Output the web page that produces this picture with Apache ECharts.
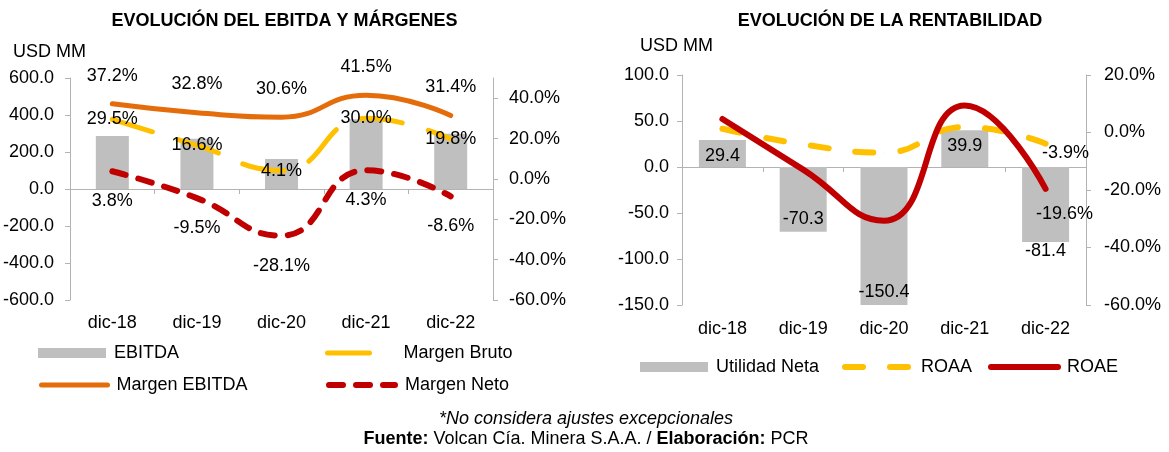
<!DOCTYPE html>
<html><head><meta charset="utf-8">
<script src="https://cdn.jsdelivr.net/npm/echarts@6/dist/echarts.min.js"></script>
<style>html,body{margin:0;padding:0;background:#fff}#c{width:1169px;height:452px}</style>
</head><body><div id="c"></div>
<script>
// ---- data ----
const categories = ['dic-18', 'dic-19', 'dic-20', 'dic-21', 'dic-22'];
const ebitda = [286, 272, 162, 377, 299];
const margenBruto = [29.5, 16.6, 4.1, 30.0, 19.8];
const margenEbitda = [37.2, 32.8, 30.6, 41.5, 31.4];
const margenNeto = [3.8, -9.5, -28.1, 4.3, -8.6];
const utilidadNeta = [29.4, -70.3, -150.4, 39.9, -81.4];
const roaa = [1.3, -4.1, -7.0, 1.9, -3.9];
const roae = [4.7, -12.9, -30.7, 9.4, -19.6];
// axis scales
const leftAxisA = {min: -600, max: 600, interval: 200};
const rightAxisA = {min: -60, max: 50, interval: 20};
const leftAxisB = {min: -150, max: 100, interval: 50};
const rightAxisB = {min: -60, max: 20, interval: 20};
// texts
const titleA = 'EVOLUCIÓN DEL EBITDA Y MÁRGENES';
const titleB = 'EVOLUCIÓN DE LA RENTABILIDAD';
const unitLabel = 'USD MM';
const note = '*No considera ajustes excepcionales';

const FONT = "'Liberation Sans', Arial, sans-serif";
const AX = '#B3B3B3';
const GRAY = '#BFBFBF', ORANGE = '#E46C0A', YELLOW = '#FFC000', RED = '#C00000';
const pct = v => v.toFixed(1) + '%';
const num = v => v.toFixed(1);
const txt = {fontFamily: FONT, fontSize: 18, color: '#000'};

function yAx(grid, pos, sc, fmt, margin, hideMax) {
  return {
    type: 'value', gridIndex: grid, position: pos,
    min: sc.min, max: sc.max, interval: sc.interval,
    axisLine: {show: true, lineStyle: {color: AX, width: 1}},
    axisTick: {show: true, length: 5, lineStyle: {color: AX}},
    splitLine: {show: false},
    axisLabel: Object.assign({formatter: fmt, margin: margin, showMaxLabel: hideMax ? false : null}, txt)
  };
}
function xLab(grid, margin) {
  return {type: 'category', gridIndex: grid, data: categories, position: 'bottom',
    axisLine: {show: false, onZero: false}, axisTick: {show: false},
    axisLabel: Object.assign({margin: margin}, txt)};
}
function xZero(grid, yIdx) {
  return {type: 'category', gridIndex: grid, data: categories, position: 'bottom',
    axisLine: {show: true, onZero: true, onZeroAxisIndex: yIdx, lineStyle: {color: AX, width: 1}},
    axisTick: {show: true, length: 5, lineStyle: {color: AX}},
    axisLabel: {show: false}};
}
function lineLegend(name, left, top, w, pad, ls) {
  return {data: [name], left: left, top: top, padding: 0, itemWidth: w, itemHeight: 10, selectedMode: false,
    itemStyle: {opacity: 0}, lineStyle: ls,
    textStyle: Object.assign({padding: [0, 0, 0, pad]}, txt)};
}
function barLegend(name, left, top, w, pad) {
  return {data: [{name: name, icon: 'rect'}], left: left, top: top, padding: 0, itemWidth: w, itemHeight: 10, selectedMode: false,
    textStyle: Object.assign({padding: [0, 0, 0, pad]}, txt)};
}
const lastOnly = (arr, lab) => arr.map((v, i) => i === arr.length - 1 ? {value: v, label: Object.assign({show: true}, lab)} : v);
const barLabelPos = utilidadNeta.map(v => v >= 0 ? {position: 'insideTop', distance: 7} : (v < -75 && v > -100 ? {position: 'bottom', distance: 0} : {position: 'insideBottom', distance: 4}));

const styleBruto = {color: YELLOW, width: 5, type: [42, 27], cap: 'round'};
const styleEbitda = {color: ORANGE, width: 5, cap: 'round'};
const styleNeto = {color: RED, width: 6, type: [14, 13], cap: 'round'};
const styleRoaa = {color: YELLOW, width: 6, type: [18, 27], cap: 'round'};
const styleRoae = {color: RED, width: 6, cap: 'round'};

const chart = echarts.init(document.getElementById('c'), null, {renderer: 'canvas'});
chart.setOption({
  animation: false,
  backgroundColor: '#fff',
  textStyle: {fontFamily: FONT},
  grid: [
    {left: 70, right: 676, top: 78, bottom: 152},
    {left: 682, right: 83, top: 75, bottom: 147}
  ],
  xAxis: [xLab(0, 14), xZero(0, 0), xLab(1, 15), xZero(1, 2)],
  yAxis: [
    yAx(0, 'left', leftAxisA, num, 16),
    yAx(0, 'right', rightAxisA, pct, 16, true),
    yAx(1, 'left', leftAxisB, num, 13),
    yAx(1, 'right', rightAxisB, pct, 18)
  ],
  legend: [
    barLegend('EBITDA', 38, 344, 68, 3),
    lineLegend('Margen EBITDA', 39, 376, 66, 4, styleEbitda),
    lineLegend('Margen Bruto', 325, 344, 48, 23, styleBruto),
    lineLegend('Margen Neto', 326, 376, 66, 5, styleNeto),
    barLegend('Utilidad Neta', 640, 358, 68, 3),
    lineLegend('ROAA', 842, 358, 66, 5, styleRoaa),
    lineLegend('ROAE', 988, 358, 67, 4, styleRoae)
  ],
  graphic: [
    {type: 'text', x: 284.5, y: 21, style: {text: titleA, fontFamily: FONT, fontSize: 18, fontWeight: 'bold', fill: '#000', align: 'center', verticalAlign: 'middle'}},
    {type: 'text', x: 890, y: 21, style: {text: titleB, fontFamily: FONT, fontSize: 18, fontWeight: 'bold', fill: '#000', align: 'center', verticalAlign: 'middle'}},
    {type: 'text', x: 13, y: 52, style: {text: unitLabel, fontFamily: FONT, fontSize: 18, fill: '#000', align: 'left', verticalAlign: 'middle'}},
    {type: 'text', x: 640, y: 46, style: {text: unitLabel, fontFamily: FONT, fontSize: 18, fill: '#000', align: 'left', verticalAlign: 'middle'}},
    {type: 'text', x: 586, y: 419, style: {text: note, fontFamily: FONT, fontSize: 18, fontStyle: 'italic', fill: '#000', align: 'center', verticalAlign: 'middle'}},
    {type: 'text', x: 586, y: 439, style: {
      text: '{b|Fuente:} Volcan Cía. Minera S.A.A. / {b|Elaboración:} PCR',
      fontFamily: FONT, fontSize: 18, fill: '#000', align: 'center', verticalAlign: 'middle',
      rich: {b: {fontFamily: FONT, fontSize: 18, fontWeight: 'bold', fill: '#000'}}}}
  ],
  series: [
    {name: 'EBITDA', type: 'bar', xAxisIndex: 0, yAxisIndex: 0, data: ebitda, barWidth: 33,
      itemStyle: {color: GRAY}, z: 1},
    {name: 'Margen Bruto', type: 'line', xAxisIndex: 0, yAxisIndex: 1, data: margenBruto, smooth: true,
      symbol: 'circle', symbolSize: 0.5, itemStyle: {color: YELLOW}, lineStyle: styleBruto,
      label: Object.assign({show: true, position: 'inside', formatter: p => pct(p.value)}, txt), z: 3},
    {name: 'Margen EBITDA', type: 'line', xAxisIndex: 0, yAxisIndex: 1, data: margenEbitda, smooth: true,
      symbol: 'circle', symbolSize: 0.5, itemStyle: {color: ORANGE}, lineStyle: styleEbitda,
      label: Object.assign({show: true, position: 'top', distance: 19, formatter: p => pct(p.value)}, txt), z: 3},
    {name: 'Margen Neto', type: 'line', xAxisIndex: 0, yAxisIndex: 1, data: margenNeto, smooth: true,
      symbol: 'circle', symbolSize: 0.5, itemStyle: {color: RED}, lineStyle: styleNeto,
      label: Object.assign({show: true, position: 'bottom', distance: 21, formatter: p => pct(p.value)}, txt), z: 3},
    {name: 'Utilidad Neta', type: 'bar', xAxisIndex: 2, yAxisIndex: 2, barWidth: 47,
      data: utilidadNeta.map((v, i) => ({value: v, label: barLabelPos[i]})),
      itemStyle: {color: GRAY},
      label: Object.assign({show: true, formatter: p => num(p.value)}, txt), z: 1},
    {name: 'ROAA', type: 'line', xAxisIndex: 2, yAxisIndex: 3, smooth: true,
      data: lastOnly(roaa, {position: 'bottom', distance: 5, offset: [20, -5]}),
      symbol: 'circle', symbolSize: 0.5, itemStyle: {color: YELLOW}, lineStyle: styleRoaa,
      label: Object.assign({show: false, formatter: p => pct(p.value)}, txt), z: 3},
    {name: 'ROAE', type: 'line', xAxisIndex: 2, yAxisIndex: 3, smooth: true,
      data: lastOnly(roae, {position: 'bottom', distance: 5, offset: [19, 11]}),
      symbol: 'circle', symbolSize: 0.5, itemStyle: {color: RED}, lineStyle: styleRoae,
      label: Object.assign({show: false, formatter: p => pct(p.value)}, txt), z: 4}
  ]
});
</script></body></html>
